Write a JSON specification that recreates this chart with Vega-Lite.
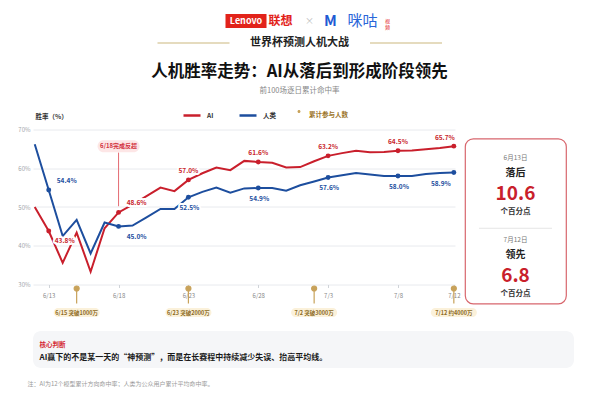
{
  "$schema": "https://vega.github.io/schema/vega-lite/v6.json",
  "background": "white",
  "padding": {"left": 17, "top": 0, "right": 0, "bottom": 0},
  "spacing": 13.5,
  "config": {
    "font": "Noto Sans CJK SC",
    "view": {"stroke": null}
  },
  "datasets": {
    "daily": [
      {"date": "2026-06-12", "AI": 0.500, "人类": 0.662},
      {"date": "2026-06-13", "AI": 0.438, "人类": 0.544},
      {"date": "2026-06-14", "AI": 0.356, "人类": 0.425},
      {"date": "2026-06-15", "AI": 0.434, "人类": 0.467},
      {"date": "2026-06-16", "AI": 0.333, "人类": 0.380},
      {"date": "2026-06-17", "AI": 0.445, "人类": 0.460},
      {"date": "2026-06-18", "AI": 0.486, "人类": 0.450},
      {"date": "2026-06-19", "AI": 0.506, "人类": 0.452},
      {"date": "2026-06-20", "AI": 0.528, "人类": 0.473},
      {"date": "2026-06-21", "AI": 0.550, "人类": 0.495},
      {"date": "2026-06-22", "AI": 0.541, "人类": 0.495},
      {"date": "2026-06-23", "AI": 0.570, "人类": 0.525},
      {"date": "2026-06-24", "AI": 0.587, "人类": 0.539},
      {"date": "2026-06-25", "AI": 0.602, "人类": 0.550},
      {"date": "2026-06-26", "AI": 0.595, "人类": 0.537},
      {"date": "2026-06-27", "AI": 0.619, "人类": 0.548},
      {"date": "2026-06-28", "AI": 0.616, "人类": 0.549},
      {"date": "2026-06-29", "AI": 0.614, "人类": 0.549},
      {"date": "2026-06-30", "AI": 0.602, "人类": 0.542},
      {"date": "2026-07-01", "AI": 0.603, "人类": 0.556},
      {"date": "2026-07-02", "AI": 0.618, "人类": 0.566},
      {"date": "2026-07-03", "AI": 0.632, "人类": 0.576},
      {"date": "2026-07-04", "AI": 0.639, "人类": 0.582},
      {"date": "2026-07-05", "AI": 0.645, "人类": 0.588},
      {"date": "2026-07-06", "AI": 0.641, "人类": 0.584},
      {"date": "2026-07-07", "AI": 0.642, "人类": 0.580},
      {"date": "2026-07-08", "AI": 0.645, "人类": 0.580},
      {"date": "2026-07-09", "AI": 0.646, "人类": 0.580},
      {"date": "2026-07-10", "AI": 0.649, "人类": 0.585},
      {"date": "2026-07-11", "AI": 0.652, "人类": 0.588},
      {"date": "2026-07-12", "AI": 0.657, "人类": 0.589}
    ],
    "milestones": [
      {"date": "2026-06-15", "kind": "累计参与人数", "label": "6/15  突破1000万"},
      {"date": "2026-06-23", "kind": "累计参与人数", "label": "6/23  突破2000万"},
      {"date": "2026-07-02", "kind": "累计参与人数", "label": "7/2  突破3000万"},
      {"date": "2026-07-12", "kind": "累计参与人数", "label": "7/12  约4000万"}
    ],
    "events": [
      {"date": "2026-06-18", "label": "6/18完成反超"}
    ]
  },
  "vconcat": [
    {
      "width": 533,
      "height": 100,
      "data": {"values": [
        {"part": "lenovo", "text": "Lenovo"},
        {"part": "lx", "text": "联想"},
        {"part": "x", "text": "×"},
        {"part": "m", "text": "M"},
        {"part": "migu", "text": "咪咕"},
        {"part": "sp", "text": "视\n频"},
        {"part": "event", "text": "世界杯预测人机大战"},
        {"part": "title", "text": "人机胜率走势：AI从落后到形成阶段领先"},
        {"part": "sub", "text": "前100场逐日累计命中率"}
      ]},
      "layer": [
        {"transform": [{"filter": "datum.part === 'lenovo'"}], "mark": {"type": "point", "shape": "M-1,-0.34H1V0.34H-1Z", "size": 1681, "filled": true, "fill": "#e2231a", "opacity": 1, "strokeWidth": 0, "xOffset": -53.5, "yOffset": -29}},
        {"transform": [{"filter": "datum.part === 'lenovo'"}], "mark": {"type": "text", "dx": -53.5, "dy": -29, "fontSize": 9, "fontWeight": "bold", "fill": "white"}, "encoding": {"text": {"field": "text"}}},
        {"transform": [{"filter": "datum.part === 'lx'"}], "mark": {"type": "text", "dx": -19, "dy": -29, "fontSize": 12, "fontWeight": "bold", "fill": "#e2231a"}, "encoding": {"text": {"field": "text"}}},
        {"transform": [{"filter": "datum.part === 'x'"}], "mark": {"type": "text", "dx": 10, "dy": -29, "fontSize": 9, "fill": "#bbbbbb"}, "encoding": {"text": {"field": "text"}}},
        {"transform": [{"filter": "datum.part === 'm'"}], "mark": {"type": "text", "dx": 31, "dy": -29, "fontSize": 15, "fontWeight": "bold", "fill": "#1f5bd4"}, "encoding": {"text": {"field": "text"}}},
        {"transform": [{"filter": "datum.part === 'migu'"}], "mark": {"type": "text", "dx": 63, "dy": -29, "fontSize": 15, "fill": "#2a66d9"}, "encoding": {"text": {"field": "text"}}},
        {"transform": [{"filter": "datum.part === 'sp'"}], "mark": {"type": "text", "dx": 88, "dy": -29, "fontSize": 5, "lineBreak": "\n", "lineHeight": 6, "fill": "#e2231a"}, "encoding": {"text": {"field": "text"}}},
        {"transform": [{"filter": "datum.part === 'event'"}], "mark": {"type": "point", "shape": "M-1,0H1", "size": 5184, "filled": false, "stroke": "#dccfa8", "strokeWidth": 1.5, "opacity": 1, "xOffset": -106, "yOffset": -7}},
        {"transform": [{"filter": "datum.part === 'event'"}], "mark": {"type": "point", "shape": "M-1,0H1", "size": 5184, "filled": false, "stroke": "#dccfa8", "strokeWidth": 1.5, "opacity": 1, "xOffset": 106.5, "yOffset": -7}},
        {"transform": [{"filter": "datum.part === 'event'"}], "mark": {"type": "text", "dy": -7, "fontSize": 11, "fontWeight": "bold", "fill": "#222222"}, "encoding": {"text": {"field": "text"}}},
        {"transform": [{"filter": "datum.part === 'title'"}], "mark": {"type": "text", "dy": 22, "fontSize": 16.5, "fontWeight": "bold", "fill": "#111111"}, "encoding": {"text": {"field": "text"}}},
        {"transform": [{"filter": "datum.part === 'sub'"}], "mark": {"type": "text", "dy": 41, "fontSize": 7.5, "fill": "#888888"}, "encoding": {"text": {"field": "text"}}}
      ]
    },
    {
      "hconcat": [
        {
          "width": 422,
          "height": 146,
          "layer": [
            {
              "data": {"name": "daily"},
              "transform": [{"fold": ["AI", "人类"], "as": ["series", "rate"]}],
              "mark": {"type": "line", "strokeWidth": 2},
              "encoding": {
                "x": {
                  "field": "date", "type": "temporal",
                  "scale": {"type": "utc", "nice": false, "domain": [
                    {"year": 2026, "month": 6, "date": 11, "hours": 21, "utc": true},
                    {"year": 2026, "month": 7, "date": 12, "hours": 2, "utc": true}
                  ]},
                  "axis": {
                    "title": null,
                    "values": [
                      {"year": 2026, "month": 6, "date": 13, "utc": true},
                      {"year": 2026, "month": 6, "date": 18, "utc": true},
                      {"year": 2026, "month": 6, "date": 23, "utc": true},
                      {"year": 2026, "month": 6, "date": 28, "utc": true},
                      {"year": 2026, "month": 7, "date": 3, "utc": true},
                      {"year": 2026, "month": 7, "date": 8, "utc": true},
                      {"year": 2026, "month": 7, "date": 12, "utc": true}
                    ],
                    "tickCount": 20,
                    "labelExpr": "utcFormat(datum.value, '%-m/%-d')",
                    "labelFontSize": 6, "labelColor": "#888888", "labelPadding": 5,
                    "tickSize": 3, "tickColor": "#cfd3d8", "domain": false, "grid": false
                  }
                },
                "y": {
                  "field": "rate", "type": "quantitative",
                  "scale": {"domain": [0.3, 0.7], "range": [146, -9], "nice": false, "zero": false},
                  "axis": {
                    "values": [0.3, 0.4, 0.5, 0.6, 0.7], "tickCount": 10, "format": ".0%", "labelOverlap": false,
                    "labelFontSize": 6, "labelColor": "#a0a4aa", "labelPadding": 3,
                    "ticks": false, "domain": false, "grid": true, "gridColor": "#e8eaee",
                    "title": "胜率（%）", "titleAngle": 0, "titleAlign": "left", "titleBaseline": "middle",
                    "titleX": 2, "titleY": -22, "titleFontSize": 6.5, "titleFontWeight": "bold", "titleColor": "#333333"
                  }
                },
                "color": {
                  "field": "series", "type": "nominal",
                  "scale": {"domain": ["AI", "人类"], "range": ["#c91f2c", "#1d4e9e"]},
                  "legend": {
                    "orient": "none", "direction": "horizontal", "legendX": 149, "legendY": 105.5, "title": null,
                    "symbolType": "stroke", "symbolSize": 289, "symbolStrokeWidth": 2.5,
                    "labelFontSize": 6.5, "labelFontWeight": "bold", "labelColor": "#333333",
                    "labelOffset": 5, "columnPadding": 20
                  }
                }
              }
            },
            {
              "data": {"name": "daily"},
              "transform": [
                {"fold": ["AI", "人类"], "as": ["series", "rate"]},
                {"filter": "datum.series === 'AI' && ((utcmonth(datum.date) === 5 && indexof([23, 28], utcdate(datum.date)) >= 0) || (utcmonth(datum.date) === 6 && indexof([3, 8], utcdate(datum.date)) >= 0))"}
              ],
              "encoding": {
                "x": {"field": "date", "type": "temporal"},
                "y": {"field": "rate", "type": "quantitative"},
                "text": {"field": "rate", "type": "quantitative", "format": ".1%"}
              },
              "layer": [
                {"mark": {"type": "text", "dy": -9, "fontSize": 6.5, "fontWeight": "bold", "fill": "white", "stroke": "white", "strokeWidth": 4, "strokeJoin": "round"}},
                {"mark": {"type": "text", "dy": -9, "fontSize": 6.5, "fontWeight": "bold", "fill": "#c91f2c"}}
              ]
            },
            {
              "data": {"name": "daily"},
              "transform": [
                {"fold": ["AI", "人类"], "as": ["series", "rate"]},
                {"filter": "datum.series === '人类' && ((utcmonth(datum.date) === 5 && indexof([23, 28], utcdate(datum.date)) >= 0) || (utcmonth(datum.date) === 6 && indexof([3, 8], utcdate(datum.date)) >= 0))"}
              ],
              "encoding": {
                "x": {"field": "date", "type": "temporal"},
                "y": {"field": "rate", "type": "quantitative"},
                "text": {"field": "rate", "type": "quantitative", "format": ".1%"}
              },
              "layer": [
                {"mark": {"type": "text", "dx": 1, "dy": 10.5, "fontSize": 6.5, "fontWeight": "bold", "fill": "white", "stroke": "white", "strokeWidth": 4, "strokeJoin": "round"}},
                {"mark": {"type": "text", "dx": 1, "dy": 10.5, "fontSize": 6.5, "fontWeight": "bold", "fill": "#1d4e9e"}}
              ]
            },
            {
              "data": {"name": "daily"},
              "transform": [
                {"fold": ["AI", "人类"], "as": ["series", "rate"]},
                {"filter": "datum.series === 'AI' && utcmonth(datum.date) === 5 && utcdate(datum.date) === 13"}
              ],
              "encoding": {
                "x": {"field": "date", "type": "temporal"},
                "y": {"field": "rate", "type": "quantitative"},
                "text": {"field": "rate", "type": "quantitative", "format": ".1%"}
              },
              "layer": [
                {"mark": {"type": "text", "dx": 16, "dy": 10, "fontSize": 6.5, "fontWeight": "bold", "fill": "white", "stroke": "white", "strokeWidth": 4, "strokeJoin": "round"}},
                {"mark": {"type": "text", "dx": 16, "dy": 10, "fontSize": 6.5, "fontWeight": "bold", "fill": "#c91f2c"}}
              ]
            },
            {
              "data": {"name": "daily"},
              "transform": [
                {"fold": ["AI", "人类"], "as": ["series", "rate"]},
                {"filter": "datum.series === '人类' && utcmonth(datum.date) === 5 && utcdate(datum.date) === 13"}
              ],
              "encoding": {
                "x": {"field": "date", "type": "temporal"},
                "y": {"field": "rate", "type": "quantitative"},
                "text": {"field": "rate", "type": "quantitative", "format": ".1%"}
              },
              "layer": [
                {"mark": {"type": "text", "dx": 18, "dy": -9, "fontSize": 6.5, "fontWeight": "bold", "fill": "white", "stroke": "white", "strokeWidth": 4, "strokeJoin": "round"}},
                {"mark": {"type": "text", "dx": 18, "dy": -9, "fontSize": 6.5, "fontWeight": "bold", "fill": "#1d4e9e"}}
              ]
            },
            {
              "data": {"name": "daily"},
              "transform": [
                {"fold": ["AI", "人类"], "as": ["series", "rate"]},
                {"filter": "datum.series === 'AI' && utcmonth(datum.date) === 5 && utcdate(datum.date) === 18"}
              ],
              "encoding": {
                "x": {"field": "date", "type": "temporal"},
                "y": {"field": "rate", "type": "quantitative"},
                "text": {"field": "rate", "type": "quantitative", "format": ".1%"}
              },
              "layer": [
                {"mark": {"type": "text", "dx": 18, "dy": -9, "fontSize": 6.5, "fontWeight": "bold", "fill": "white", "stroke": "white", "strokeWidth": 4, "strokeJoin": "round"}},
                {"mark": {"type": "text", "dx": 18, "dy": -9, "fontSize": 6.5, "fontWeight": "bold", "fill": "#c91f2c"}}
              ]
            },
            {
              "data": {"name": "daily"},
              "transform": [
                {"fold": ["AI", "人类"], "as": ["series", "rate"]},
                {"filter": "datum.series === '人类' && utcmonth(datum.date) === 5 && utcdate(datum.date) === 18"}
              ],
              "encoding": {
                "x": {"field": "date", "type": "temporal"},
                "y": {"field": "rate", "type": "quantitative"},
                "text": {"field": "rate", "type": "quantitative", "format": ".1%"}
              },
              "layer": [
                {"mark": {"type": "text", "dx": 18, "dy": 11, "fontSize": 6.5, "fontWeight": "bold", "fill": "white", "stroke": "white", "strokeWidth": 4, "strokeJoin": "round"}},
                {"mark": {"type": "text", "dx": 18, "dy": 11, "fontSize": 6.5, "fontWeight": "bold", "fill": "#1d4e9e"}}
              ]
            },
            {
              "data": {"name": "daily"},
              "transform": [
                {"fold": ["AI", "人类"], "as": ["series", "rate"]},
                {"filter": "datum.series === 'AI' && utcmonth(datum.date) === 6 && utcdate(datum.date) === 12"}
              ],
              "encoding": {
                "x": {"field": "date", "type": "temporal"},
                "y": {"field": "rate", "type": "quantitative"},
                "text": {"field": "rate", "type": "quantitative", "format": ".1%"}
              },
              "layer": [
                {"mark": {"type": "text", "dx": -9, "dy": -8.5, "fontSize": 6.5, "fontWeight": "bold", "fill": "white", "stroke": "white", "strokeWidth": 4, "strokeJoin": "round"}},
                {"mark": {"type": "text", "dx": -9, "dy": -8.5, "fontSize": 6.5, "fontWeight": "bold", "fill": "#c91f2c"}}
              ]
            },
            {
              "data": {"name": "daily"},
              "transform": [
                {"fold": ["AI", "人类"], "as": ["series", "rate"]},
                {"filter": "datum.series === '人类' && utcmonth(datum.date) === 6 && utcdate(datum.date) === 12"}
              ],
              "encoding": {
                "x": {"field": "date", "type": "temporal"},
                "y": {"field": "rate", "type": "quantitative"},
                "text": {"field": "rate", "type": "quantitative", "format": ".1%"}
              },
              "layer": [
                {"mark": {"type": "text", "dx": -13, "dy": 11, "fontSize": 6.5, "fontWeight": "bold", "fill": "white", "stroke": "white", "strokeWidth": 4, "strokeJoin": "round"}},
                {"mark": {"type": "text", "dx": -13, "dy": 11, "fontSize": 6.5, "fontWeight": "bold", "fill": "#1d4e9e"}}
              ]
            },
            {
              "data": {"name": "daily"},
              "transform": [
                {"fold": ["AI", "人类"], "as": ["series", "rate"]},
                {"filter": "(utcmonth(datum.date) === 5 && indexof([13, 18, 23, 28], utcdate(datum.date)) >= 0) || (utcmonth(datum.date) === 6 && indexof([3, 8, 12], utcdate(datum.date)) >= 0)"}
              ],
              "mark": {"type": "point", "filled": true, "size": 24, "opacity": 1},
              "encoding": {
                "x": {"field": "date", "type": "temporal"},
                "y": {"field": "rate", "type": "quantitative"},
                "color": {"field": "series", "type": "nominal"}
              }
            },
            {
              "data": {"name": "events"},
              "encoding": {"x": {"field": "date", "type": "temporal"}},
              "layer": [
                {"mark": {"type": "rule", "color": "#e46a72", "strokeWidth": 1}, "encoding": {"y": {"datum": 0.6406}, "y2": {"datum": 0.502}}},
                {"mark": {"type": "point", "shape": "M-0.714,-0.286H0.714A0.286,0.286 0 0 1 0.714,0.286H-0.714A0.286,0.286 0 0 1 -0.714,-0.286Z", "size": 1764, "filled": true, "fill": "#fde6e6", "opacity": 1, "strokeWidth": 0}, "encoding": {"y": {"datum": 0.6569}}},
                {"mark": {"type": "text", "fontSize": 6, "fontWeight": "bold", "fill": "#d2323e"}, "encoding": {"y": {"datum": 0.6569}, "text": {"field": "label"}}}
              ]
            },
            {
              "data": {"name": "milestones"},
              "encoding": {"x": {"field": "date", "type": "temporal"}},
              "layer": [
                {
                  "mark": {"type": "point", "filled": true, "size": 400, "opacity": 1, "fill": "#c8a25a", "stroke": "#c8a25a", "strokeWidth": 1.2, "y": "height", "yOffset": 10},
                  "encoding": {
                    "shape": {
                      "field": "kind", "type": "nominal",
                      "scale": {"range": ["M0,-0.6V0.9M-0.25,-0.6A0.25,0.25 0 1 0 0.25,-0.6A0.25,0.25 0 1 0 -0.25,-0.6Z"]},
                      "legend": {
                        "orient": "none", "legendX": 259, "legendY": 108, "title": null,
                        "symbolSize": 144, "symbolFillColor": "#c8a25a", "symbolStrokeColor": "#c8a25a", "symbolStrokeWidth": 1.2,
                        "labelFontSize": 6.5, "labelFontWeight": "bold", "labelColor": "#9b7428", "labelOffset": 3
                      }
                    }
                  }
                },
                {"mark": {"type": "point", "shape": "M-0.8,-0.2H0.8A0.2,0.2 0 0 1 0.8,0.2H-0.8A0.2,0.2 0 0 1 -0.8,-0.2Z", "size": 2116, "filled": true, "fill": "#fbf1da", "opacity": 1, "strokeWidth": 0, "y": "height", "yOffset": 28}},
                {"mark": {"type": "text", "fontSize": 5.5, "fontWeight": "bold", "fill": "#8c6a22", "y": "height", "yOffset": 28}, "encoding": {"text": {"field": "label"}}}
              ]
            }
          ]
        },
        {
          "width": 101,
          "height": 165,
          "view": {"stroke": "#d8666d", "strokeWidth": 1.2, "cornerRadius": 8, "fill": "white"},
          "data": {"values": [
            {"day": "6月13日", "state": "落后", "gap": 10.6},
            {"day": "7月12日", "state": "领先", "gap": 6.8}
          ]},
          "encoding": {
            "y": {"field": "day", "type": "nominal", "scale": {"domain": ["6月13日", "7月12日"]}, "axis": null}
          },
          "layer": [
            {"mark": {"type": "text", "dy": -22, "fontSize": 6.5, "fill": "#777777"}, "encoding": {"text": {"field": "day"}}},
            {"mark": {"type": "text", "dy": -7, "fontSize": 10, "fontWeight": "bold", "fill": "#222222"}, "encoding": {"text": {"field": "state"}}},
            {"mark": {"type": "text", "dy": 14, "fontSize": 19, "fontWeight": "bold", "fill": "#c91f2c"}, "encoding": {"text": {"field": "gap", "type": "quantitative", "format": ".1f"}}},
            {"mark": {"type": "text", "dy": 32, "fontSize": 7.5, "fontWeight": "bold", "fill": "#333333", "text": "个百分点"}},
            {"transform": [{"filter": "datum.day === '7月12日'"}], "mark": {"type": "rule", "color": "#e5e5e5", "strokeWidth": 1, "yOffset": -34}, "encoding": {"x": {"value": 14}, "x2": {"value": 87}}}
          ]
        }
      ],
      "spacing": 10,
      "bounds": "flush"
    },
    {
      "width": 541,
      "height": 37,
      "view": {"fill": "#f5f6f8", "stroke": null, "cornerRadius": 8},
      "data": {"values": [
        {"part": "tag", "text": "核心判断"},
        {"part": "main", "text": "AI赢下的不是某一天的“神预测”，而是在长赛程中持续减少失误、抬高平均线。"},
        {"part": "note", "text": "注：AI为12个模型累计方向命中率；人类为公众用户累计平均命中率。"}
      ]},
      "layer": [
        {"transform": [{"filter": "datum.part === 'tag'"}], "mark": {"type": "text", "align": "left", "dx": -264, "dy": -4.7, "fontSize": 6.5, "fontWeight": "bold", "fill": "#d42a35"}, "encoding": {"text": {"field": "text"}}},
        {"transform": [{"filter": "datum.part === 'main'"}], "mark": {"type": "text", "align": "left", "dx": -264, "dy": 8.3, "fontSize": 8, "fontWeight": "bold", "fill": "#1a1a1a"}, "encoding": {"text": {"field": "text"}}},
        {"transform": [{"filter": "datum.part === 'note'"}], "mark": {"type": "text", "align": "left", "dx": -276, "dy": 34.3, "fontSize": 6, "fill": "#9a9a9a"}, "encoding": {"text": {"field": "text"}}}
      ]
    }
  ]
}
